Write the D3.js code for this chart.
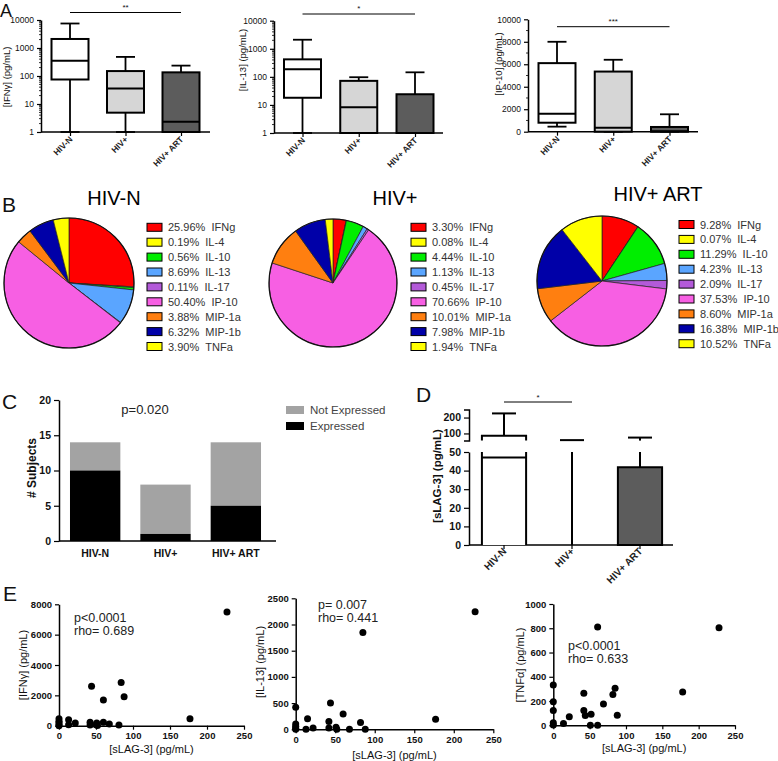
<!DOCTYPE html>
<html><head><meta charset="utf-8">
<script src="https://cdn.jsdelivr.net/npm/d3@7"></script>
<style>body{margin:0;background:#fff} svg{display:block}</style>
</head><body><svg id="c" width="778" height="761"></svg>
<script>
// ---------------- DATA ----------------
const groups = ["HIV-N", "HIV+", "HIV+ ART"];
// Panel A: [min, q1, median, q3, max]
const ifngBox = [[1, 75, 350, 2100, 7500], [1, 4.9, 36, 150, 480], [1, 1, 2.3, 135, 235]];
const il13Box = [[1, 18, 185, 420, 2100], [1, 1, 8.2, 72, 97], [1, 1, 1, 24, 145]];
const ip10Box = [[450, 800, 1600, 6100, 8000], [0, 0, 360, 5350, 6400], [0, 0, 50, 420, 1550]];
const logTicks = [1, 10, 100, 1000, 10000];
const ip10Ticks = [0, 2000, 4000, 6000, 8000, 10000];
const sigA = ["**", "*", "***"];
// Panel B
const cytokines = ["IFNg", "IL-4", "IL-10", "IL-13", "IL-17", "IP-10", "MIP-1a", "MIP-1b", "TNFa"];
const cytokineColors = ["#ff0000", "#ffff00", "#00ee00", "#5aa5ff", "#b35ad9", "#f75fe3", "#ff7f10", "#0000a8", "#ffff00"];
const pieHIVN = [25.96, 0.19, 0.56, 8.69, 0.11, 50.40, 3.88, 6.32, 3.90];
const pieHIVpos = [3.30, 0.08, 4.44, 1.13, 0.45, 70.66, 10.01, 7.98, 1.94];
const pieART = [9.28, 0.07, 11.29, 4.23, 2.09, 37.53, 8.60, 16.38, 10.52];
// Panel C
const expressed = [10, 1, 5];
const notExpressed = [4, 7, 9];
const cTicks = [0, 5, 10, 15, 20];
// Panel D
const sLAGMean = [85, 0, 41.8];
const sLAGUpper = [226, 58, 74];
const sLAGLowerMark = [47, null, null];
const dLowTicks = [0, 10, 20, 30, 40, 50];
const dHighTicks = [100, 200];
// Panel E
const eLeftX = [0, 0, 0, 0, 0, 13, 13, 22, 42, 42, 44, 50, 51, 52, 60, 60, 68, 81, 84, 88, 177, 227];
const eLeftY = [0, 80, 200, 300, 450, 400, 60, 170, 230, 40, 2600, 60, 170, 20, 1700, 220, 120, 50, 2850, 1900, 450, 7500];
const eMidX = [0, 0, 0, 0, 0, 15, 13, 22, 42, 42, 44, 51, 52, 60, 68, 82, 85, 88, 177, 227];
const eMidY = [420, 100, 60, 20, 0, 200, 0, 25, 150, 25, 500, 40, 0, 290, 0, 130, 1845, 0, 190, 2245];
const eRightX = [0, 0, 0, 0, 0, 14, 22, 42, 42, 44, 52, 51, 61, 61, 69, 82, 85, 88, 178, 228];
const eRightY = [332, 195, 121, 20, 3, 14, 71, 264, 121, 80, 91, 0, 810, 0, 176, 253, 305, 82, 275, 805];
const sLAGTicks = [0, 50, 100, 150, 200, 250];

// ---------------- DRAW ----------------
const FONT = '"Liberation Sans", Arial, Helvetica, sans-serif';
const svg = d3.select("#c");
const boxFill = ["#ffffff", "#d6d6d6", "#5c5c5c"];

function axisStyle(g, fs, weight) {
  g.attr("font-family", FONT).attr("font-size", fs).attr("font-weight", weight || "normal");
  g.select(".domain").attr("stroke", "#000").attr("stroke-width", 1.5);
  g.selectAll(".tick line").attr("stroke", "#000").attr("stroke-width", 1.2);
  g.selectAll(".tick text").attr("fill", "#111");
  return g;
}
function text(x, y, s, fs, o = {}) {
  const t = svg.append("text").attr("x", x).attr("y", y).text(s)
    .attr("font-family", FONT).attr("font-size", fs)
    .attr("font-weight", o.weight || "normal").attr("fill", o.fill || "#111")
    .attr("text-anchor", o.anchor || "start");
  if (o.rot) t.attr("transform", `rotate(${o.rot},${x},${y})`);
  return t;
}
function line(x1, y1, x2, y2, w = 1.5, c = "#000") {
  return svg.append("line").attr("x1", x1).attr("y1", y1).attr("x2", x2).attr("y2", y2)
    .attr("stroke", c).attr("stroke-width", w);
}

// Panel letters
text(0, 17, "A", 18);
text(2, 212, "B", 21);
text(2, 409, "C", 21);
text(416, 402, "D", 21);
text(3, 601, "E", 21);

// ---- Panel A ----
function boxPanel(o) {
  const y = o.log ? d3.scaleLog().domain([1, 10000]).range([o.yBot, o.yTop])
                  : d3.scaleLinear().domain([0, 10000]).range([o.yBot, o.yTop]);
  const x = d3.scalePoint().domain(groups).range([o.x0 + o.c0, o.x0 + o.c1]);
  const gy = svg.append("g").attr("transform", `translate(${o.x0},0)`)
    .call(d3.axisLeft(y).tickValues(o.ticks).tickFormat(d3.format("d")).tickSize(4).tickSizeOuter(0));
  axisStyle(gy, 8.5);
  if (o.log) {
    const minor = [];
    for (let k = 1; k < 10000; k *= 10) for (let m = 2; m < 10; m++) minor.push(k * m);
    svg.append("g").selectAll("line").data(minor).join("line")
      .attr("x1", o.x0 - 2).attr("x2", o.x0).attr("y1", d => y(d)).attr("y2", d => y(d))
      .attr("stroke", "#000").attr("stroke-width", 0.8);
  } else {
    const minor = d3.range(1000, 10000, 2000);
    svg.append("g").selectAll("line").data(minor).join("line")
      .attr("x1", o.x0 - 2).attr("x2", o.x0).attr("y1", d => y(d)).attr("y2", d => y(d))
      .attr("stroke", "#000").attr("stroke-width", 0.8);
  }
  line(o.x0, o.yBot, o.x1, o.yBot, 1.5);
  const gx = svg.append("g").attr("transform", `translate(0,${o.yBot})`)
    .call(d3.axisBottom(x).tickSize(4).tickFormat(""));
  gx.select(".domain").remove();
  gx.selectAll(".tick line").attr("stroke", "#000").attr("stroke-width", 1.2);
  groups.forEach(gn => {
    text(x(gn) + 3, o.yBot + 8, gn, 8.5, { anchor: "end", rot: -45, weight: "bold", fill: "#222" });
  });
  const bw = 37, cw = 19;
  o.data.forEach((d, i) => {
    const cx = x(groups[i]);
    const [mn, q1, md, q3, mx] = d;
    line(cx, y(mn), cx, y(mx), 1.8);
    line(cx - cw / 2, y(mx), cx + cw / 2, y(mx), 1.8);
    line(cx - cw / 2, y(mn), cx + cw / 2, y(mn), 1.8);
    svg.append("rect").attr("x", cx - bw / 2).attr("y", y(q3)).attr("width", bw)
      .attr("height", Math.max(0.5, y(q1) - y(q3))).attr("fill", boxFill[i])
      .attr("stroke", "#000").attr("stroke-width", 2);
    line(cx - bw / 2, y(md), cx + bw / 2, y(md), 2);
  });
  const sx1 = x(groups[0]), sx2 = x(groups[2]);
  line(sx1, o.sigY, sx2, o.sigY, 1);
  text((sx1 + sx2) / 2, o.sigY - 3, o.sig, 8, { anchor: "middle" });
  text(o.lx, o.ly, o.label, 9.5, { anchor: "middle", rot: -90 });
}
boxPanel({ x0: 41, x1: 210, yTop: 20, yBot: 132, c0: 29, c1: 140, log: true, ticks: logTicks,
  data: ifngBox, sig: sigA[0], sigY: 12.5, label: "[IFNγ] (pg/mL)", lx: 10, ly: 77 });
boxPanel({ x0: 274, x1: 443, yTop: 20.7, yBot: 133, c0: 28.5, c1: 141, log: true, ticks: logTicks,
  data: il13Box, sig: sigA[1], sigY: 14, label: "[IL-13] (pg/mL)", lx: 246, ly: 60 });
boxPanel({ x0: 528, x1: 698, yTop: 19.3, yBot: 131.7, c0: 29, c1: 141.5, log: false, ticks: ip10Ticks,
  data: ip10Box, sig: sigA[2], sigY: 26.7, label: "[IP-10] (pg/mL)", lx: 502, ly: 64 });

// ---- Panel B ----
function piePanel(o) {
  const arcs = d3.pie().sort(null).value(d => d)(o.values);
  const arc = d3.arc().innerRadius(0).outerRadius(o.r);
  const g = svg.append("g").attr("transform", `translate(${o.cx},${o.cy})`);
  g.selectAll("path").data(arcs).join("path").attr("d", arc)
    .attr("fill", (d, i) => cytokineColors[i]).attr("stroke", "#222").attr("stroke-width", 0.7);
  g.append("circle").attr("r", o.r).attr("fill", "none").attr("stroke", "#111").attr("stroke-width", 1.2);
  text(o.tx, o.ty, o.title, 20, { anchor: "middle", fill: "#000" });
  const step = 14.9;
  o.values.forEach((v, i) => {
    const yy = o.ly + i * step;
    svg.append("rect").attr("x", o.lx).attr("y", yy - 4).attr("width", 15).attr("height", 8)
      .attr("fill", cytokineColors[i]).attr("stroke", "#000").attr("stroke-width", 1);
    text(o.lx + 21, yy + 4, v.toFixed(2) + "%\u00a0\u00a0" + cytokines[i], 11, { fill: "#333" });
  });
}
piePanel({ values: pieHIVN, cx: 69, cy: 283, r: 65, title: "HIV-N", tx: 114, ty: 205, lx: 147, ly: 227.3 });
piePanel({ values: pieHIVpos, cx: 333, cy: 283, r: 64, title: "HIV+", tx: 395, ty: 205, lx: 411, ly: 227.3 });
piePanel({ values: pieART, cx: 602, cy: 281, r: 65, title: "HIV+ ART", tx: 658, ty: 201, lx: 679, ly: 224.5 });

// ---- Panel C ----
(function () {
  const y = d3.scaleLinear().domain([0, 20]).range([541, 400]);
  const x = d3.scaleBand().domain(groups).range([60, 271]).paddingInner(0.284).paddingOuter(0.142);
  const gy = svg.append("g").attr("transform", "translate(59,0)")
    .call(d3.axisLeft(y).tickValues(cTicks).tickSize(5).tickSizeOuter(0));
  axisStyle(gy, 10.5, "bold");
  groups.forEach((gn, i) => {
    svg.append("rect").attr("x", x(gn)).attr("width", x.bandwidth())
      .attr("y", y(expressed[i] + notExpressed[i])).attr("height", y(expressed[i]) - y(expressed[i] + notExpressed[i]))
      .attr("fill", "#a3a3a3");
    svg.append("rect").attr("x", x(gn)).attr("width", x.bandwidth())
      .attr("y", y(expressed[i])).attr("height", y(0) - y(expressed[i])).attr("fill", "#000");
    text(x(gn) + x.bandwidth() / 2, 557, gn, 10.5, { anchor: "middle", weight: "bold", fill: "#111" });
  });
  line(59, 541, 276, 541, 1.5);
  text(145, 414, "p=0.020", 13, { anchor: "middle", fill: "#222" });
  text(36, 468, "# Subjects", 12, { anchor: "middle", rot: -90, weight: "bold" });
  svg.append("rect").attr("x", 286).attr("y", 406).attr("width", 18).attr("height", 8).attr("fill", "#a3a3a3");
  svg.append("rect").attr("x", 286).attr("y", 422).attr("width", 18).attr("height", 8).attr("fill", "#000");
  text(310, 414, "Not Expressed", 11.5, { fill: "#444" });
  text(310, 430, "Expressed", 11.5, { fill: "#444" });
})();

// ---- Panel D ----
(function () {
  const yLo = d3.scaleLinear().domain([0, 50]).range([545, 452]);
  const yHi = d3.scaleLinear().domain([55, 250]).range([440.6, 409.6]);
  const x = d3.scaleBand().domain(groups).range([469, 675]).paddingInner(0.35).paddingOuter(0.19);
  const g1 = svg.append("g").attr("transform", "translate(469,0)")
    .call(d3.axisLeft(yLo).tickValues(dLowTicks).tickSize(5).tickSizeOuter(0));
  axisStyle(g1, 10.5, "bold");
  const g2 = svg.append("g").attr("transform", "translate(469,0)")
    .call(d3.axisLeft(yHi).tickValues(dHighTicks).tickSize(5).tickSizeOuter(5));
  axisStyle(g2, 10.5, "bold");
  line(469, 545, 673, 545, 1.5);
  const gx = svg.append("g").attr("transform", "translate(0,545)")
    .call(d3.axisBottom(x).tickSize(4).tickFormat(""));
  gx.select(".domain").remove();
  gx.selectAll(".tick line").attr("stroke", "#000").attr("stroke-width", 1.2);
  const fills = ["#ffffff", "#ffffff", "#5c5c5c"];
  const capW = 24;
  groups.forEach((gn, i) => {
    const l = x(gn), r = l + x.bandwidth(), cx = l + x.bandwidth() / 2;
    const m = sLAGMean[i], u = sLAGUpper[i];
    if (u > 50) {
      line(cx, m > 50 ? yHi(m) : yHi(55), cx, yHi(u), 2);
      line(cx - capW / 2, yHi(u), cx + capW / 2, yHi(u), 2);
      if (m < 50) line(cx, yLo(m), cx, yLo(50), 2);
    } else {
      line(cx, yLo(m), cx, yLo(u), 2);
      line(cx - capW / 2, yLo(u), cx + capW / 2, yLo(u), 2);
    }
    if (m > 50) {
      svg.append("rect").attr("x", l).attr("y", yLo(50)).attr("width", r - l).attr("height", yLo(0) - yLo(50)).attr("fill", fills[i]);
      svg.append("path").attr("d", `M${l},${yLo(0)}V${yLo(50)}M${r},${yLo(50)}V${yLo(0)}`)
        .attr("fill", "none").attr("stroke", "#000").attr("stroke-width", 2);
      svg.append("path").attr("d", `M${l},${yHi(55)}V${yHi(m)}H${r}V${yHi(55)}`)
        .attr("fill", fills[i]).attr("stroke", "#000").attr("stroke-width", 2);
    } else if (m > 0) {
      svg.append("rect").attr("x", l).attr("y", yLo(m)).attr("width", r - l).attr("height", yLo(0) - yLo(m))
        .attr("fill", fills[i]).attr("stroke", "#000").attr("stroke-width", 2);
    }
    if (sLAGLowerMark[i] != null) line(l, yLo(sLAGLowerMark[i]), r, yLo(sLAGLowerMark[i]), 2);
    text(cx + 3, 552, gn, 10, { anchor: "end", rot: -45, weight: "bold", fill: "#222" });
  });
  const s1 = x(groups[0]) + x.bandwidth() / 2, s2 = x(groups[1]) + x.bandwidth() / 2;
  line(s1, 402, s2, 402, 1);
  text((s1 + s2) / 2, 400, "*", 8, { anchor: "middle" });
  text(441, 476, "[sLAG-3] (pg/mL)", 11.5, { anchor: "middle", rot: -90, weight: "bold" });
})();

// ---- Panel E ----
function scatter(o) {
  const x = d3.scaleLinear().domain([0, 250]).range([o.x0, o.x1]);
  const y = d3.scaleLinear().domain([0, o.yMax]).range([o.yBot, o.yTop]);
  const gy = svg.append("g").attr("transform", `translate(${o.x0},0)`)
    .call(d3.axisLeft(y).tickValues(d3.range(0, o.yMax + 1, o.yStep)).tickFormat(d3.format("d")).tickSize(4).tickSizeOuter(0));
  axisStyle(gy, 9.5, "bold");
  const gx = svg.append("g").attr("transform", `translate(0,${o.yBot})`)
    .call(d3.axisBottom(x).tickValues(sLAGTicks).tickSize(4).tickSizeOuter(0));
  axisStyle(gx, 9.5, "bold");
  svg.append("g").selectAll("circle").data(o.xs).join("circle")
    .attr("cx", d => x(d)).attr("cy", (d, i) => y(o.ys[i])).attr("r", 3.5).attr("fill", "#000");
  text(o.sx, o.sy, o.p, 12.5, { fill: "#222" });
  text(o.sx, o.sy + 13, o.rho, 12.5, { fill: "#222" });
  text(o.ylx, o.yly, o.ylabel, 11, { anchor: "middle", rot: -90 });
  text((o.x0 + o.x1) / 2, o.xly, "[sLAG-3] (pg/mL)", 11, { anchor: "middle" });
}
scatter({ x0: 59, x1: 244, yTop: 604.3, yBot: 725.7, yMax: 8000, yStep: 2000, xs: eLeftX, ys: eLeftY,
  p: "p<0.0001", rho: "rho= 0.689", sx: 74, sy: 622, ylabel: "[IFNγ] (pg/mL)", ylx: 27, yly: 665, xly: 753 });
scatter({ x0: 295.7, x1: 493.3, yTop: 598.3, yBot: 729.3, yMax: 2500, yStep: 500, xs: eMidX, ys: eMidY,
  p: "p= 0.007", rho: "rho= 0.441", sx: 318, sy: 609, ylabel: "[IL-13] (pg/mL)", ylx: 264, yly: 662, xly: 759 });
scatter({ x0: 553.3, x1: 735, yTop: 604, yBot: 725.3, yMax: 1000, yStep: 200, xs: eRightX, ys: eRightY,
  p: "p<0.0001", rho: "rho= 0.633", sx: 568, sy: 650, ylabel: "[TNFα] (pg/mL)", ylx: 524, yly: 665, xly: 752 });
</script></body></html>
